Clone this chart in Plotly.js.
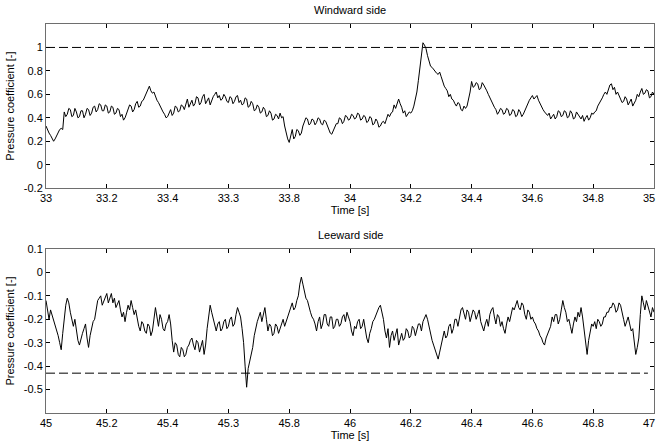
<!DOCTYPE html>
<html>
<head>
<meta charset="utf-8">
<script src="https://cdn.plot.ly/plotly-3.0.1.min.js"></script>
<style>html,body{margin:0;padding:0;background:#fff;}#chart{width:658px;height:447px;}</style>
</head>
<body>
<div id="chart"></div>
<script>
// Windward side: pressure coefficient sampled every 0.005 s from 33.000 s
var windStart = 33.0;
var windStep = 0.005;
var windCp = [
0.33,0.29,0.27,0.25,0.23,0.20,0.22,0.25,0.27,0.30,0.31,0.30,0.45,0.41,0.43,0.48,0.47,0.41,0.42,0.48,
0.45,0.40,0.41,0.46,0.46,0.40,0.43,0.48,0.47,0.42,0.44,0.49,0.50,0.45,0.47,0.52,0.51,0.46,0.46,0.51,
0.50,0.44,0.45,0.50,0.49,0.43,0.44,0.48,0.47,0.41,0.43,0.38,0.40,0.44,0.46,0.51,0.50,0.45,0.47,0.52,
0.54,0.49,0.50,0.54,0.55,0.58,0.60,0.64,0.67,0.63,0.61,0.62,0.58,0.55,0.53,0.50,0.48,0.45,0.43,0.40,
0.41,0.45,0.47,0.42,0.44,0.50,0.49,0.45,0.46,0.51,0.50,0.47,0.53,0.56,0.49,0.53,0.55,0.50,0.52,0.58,
0.57,0.51,0.53,0.58,0.60,0.52,0.54,0.57,0.51,0.55,0.58,0.60,0.62,0.57,0.59,0.55,0.56,0.60,0.58,0.54,
0.53,0.58,0.57,0.52,0.54,0.58,0.59,0.53,0.55,0.51,0.52,0.57,0.56,0.49,0.50,0.54,0.52,0.46,0.47,0.51,
0.49,0.44,0.45,0.49,0.47,0.41,0.42,0.46,0.44,0.38,0.39,0.43,0.42,0.39,0.44,0.40,0.41,0.33,0.27,0.22,
0.19,0.26,0.30,0.22,0.24,0.30,0.29,0.25,0.27,0.33,0.36,0.40,0.39,0.34,0.35,0.39,0.38,0.34,0.36,0.40,
0.39,0.35,0.34,0.38,0.37,0.33,0.30,0.27,0.26,0.29,0.32,0.35,0.35,0.40,0.39,0.35,0.37,0.42,0.41,0.38,
0.39,0.43,0.42,0.39,0.40,0.44,0.43,0.38,0.39,0.42,0.41,0.36,0.37,0.41,0.40,0.34,0.35,0.39,0.37,0.32,
0.33,0.36,0.37,0.35,0.39,0.43,0.41,0.44,0.45,0.51,0.48,0.53,0.56,0.52,0.49,0.44,0.46,0.41,0.43,0.45,
0.44,0.46,0.50,0.55,0.62,0.72,0.82,0.93,1.04,1.02,0.99,0.93,0.88,0.84,0.83,0.81,0.80,0.78,0.77,0.79,
0.75,0.70,0.67,0.65,0.63,0.58,0.60,0.56,0.55,0.52,0.50,0.53,0.52,0.47,0.46,0.50,0.48,0.50,0.55,0.62,
0.71,0.66,0.67,0.70,0.69,0.64,0.65,0.70,0.68,0.66,0.63,0.60,0.57,0.54,0.52,0.49,0.47,0.43,0.45,0.48,
0.47,0.43,0.44,0.48,0.47,0.42,0.43,0.47,0.46,0.41,0.42,0.47,0.45,0.41,0.43,0.46,0.50,0.53,0.55,0.57,
0.59,0.56,0.58,0.59,0.55,0.52,0.49,0.47,0.45,0.43,0.42,0.44,0.39,0.41,0.43,0.39,0.41,0.46,0.45,0.41,
0.42,0.46,0.45,0.40,0.41,0.46,0.44,0.39,0.40,0.45,0.43,0.40,0.39,0.42,0.37,0.40,0.42,0.38,0.40,0.44,
0.43,0.45,0.46,0.50,0.52,0.55,0.57,0.60,0.62,0.60,0.65,0.68,0.69,0.64,0.66,0.60,0.62,0.58,0.56,0.53,
0.54,0.58,0.56,0.51,0.53,0.56,0.50,0.52,0.55,0.60,0.58,0.62,0.65,0.60,0.61,0.64,0.63,0.57,0.58,0.62,
0.60
];
var windRef = 1.0;

// Leeward side: pressure coefficient sampled every 0.005 s from 45.000 s
var leeStart = 45.0;
var leeStep = 0.005;
var leeCp = [
-0.12,-0.17,-0.20,-0.16,-0.18,-0.21,-0.23,-0.25,-0.27,-0.30,-0.33,-0.26,-0.20,-0.14,-0.11,-0.13,-0.17,-0.21,-0.23,-0.20,
-0.25,-0.29,-0.31,-0.28,-0.26,-0.24,-0.22,-0.28,-0.32,-0.27,-0.23,-0.21,-0.20,-0.15,-0.12,-0.11,-0.10,-0.14,-0.12,-0.10,
-0.09,-0.13,-0.11,-0.09,-0.13,-0.11,-0.15,-0.13,-0.12,-0.16,-0.19,-0.17,-0.21,-0.17,-0.14,-0.16,-0.12,-0.15,-0.18,-0.16,
-0.20,-0.23,-0.25,-0.21,-0.22,-0.25,-0.26,-0.22,-0.23,-0.27,-0.25,-0.20,-0.15,-0.19,-0.23,-0.18,-0.20,-0.24,-0.25,-0.22,
-0.21,-0.18,-0.22,-0.29,-0.34,-0.30,-0.31,-0.35,-0.36,-0.32,-0.33,-0.36,-0.35,-0.32,-0.31,-0.29,-0.28,-0.31,-0.33,-0.29,
-0.30,-0.34,-0.32,-0.29,-0.35,-0.31,-0.24,-0.18,-0.14,-0.17,-0.20,-0.23,-0.25,-0.22,-0.21,-0.25,-0.24,-0.21,-0.20,-0.24,
-0.23,-0.20,-0.19,-0.23,-0.22,-0.18,-0.15,-0.17,-0.19,-0.24,-0.30,-0.40,-0.49,-0.41,-0.38,-0.35,-0.32,-0.27,-0.23,-0.21,
-0.19,-0.17,-0.21,-0.17,-0.15,-0.20,-0.25,-0.22,-0.23,-0.27,-0.26,-0.22,-0.23,-0.26,-0.24,-0.21,-0.20,-0.23,-0.21,-0.18,
-0.16,-0.14,-0.13,-0.16,-0.15,-0.12,-0.10,-0.05,-0.02,-0.05,-0.09,-0.11,-0.12,-0.15,-0.17,-0.19,-0.20,-0.22,-0.25,-0.21,
-0.19,-0.24,-0.22,-0.18,-0.18,-0.22,-0.23,-0.19,-0.19,-0.24,-0.23,-0.20,-0.20,-0.23,-0.22,-0.19,-0.18,-0.21,-0.17,-0.19,
-0.21,-0.25,-0.27,-0.23,-0.24,-0.21,-0.20,-0.24,-0.23,-0.20,-0.25,-0.28,-0.30,-0.26,-0.24,-0.21,-0.20,-0.18,-0.17,-0.15,
-0.14,-0.17,-0.20,-0.25,-0.28,-0.24,-0.32,-0.27,-0.25,-0.29,-0.27,-0.24,-0.31,-0.28,-0.26,-0.29,-0.28,-0.24,-0.25,-0.28,
-0.27,-0.23,-0.24,-0.27,-0.25,-0.22,-0.22,-0.25,-0.21,-0.19,-0.18,-0.20,-0.23,-0.27,-0.29,-0.31,-0.33,-0.36,-0.37,-0.34,
-0.31,-0.28,-0.25,-0.28,-0.27,-0.23,-0.22,-0.26,-0.24,-0.20,-0.20,-0.23,-0.19,-0.16,-0.15,-0.18,-0.20,-0.16,-0.17,-0.21,
-0.19,-0.16,-0.17,-0.20,-0.18,-0.16,-0.21,-0.23,-0.25,-0.22,-0.20,-0.23,-0.18,-0.16,-0.15,-0.19,-0.22,-0.18,-0.19,-0.23,
-0.21,-0.24,-0.26,-0.22,-0.19,-0.21,-0.18,-0.15,-0.16,-0.14,-0.12,-0.15,-0.16,-0.13,-0.14,-0.18,-0.20,-0.16,-0.17,-0.20,
-0.19,-0.21,-0.22,-0.24,-0.25,-0.27,-0.28,-0.30,-0.31,-0.28,-0.26,-0.24,-0.23,-0.19,-0.21,-0.18,-0.18,-0.22,-0.20,-0.16,
-0.12,-0.15,-0.17,-0.21,-0.20,-0.23,-0.26,-0.22,-0.19,-0.21,-0.17,-0.19,-0.15,-0.19,-0.24,-0.30,-0.35,-0.29,-0.25,-0.22,
-0.23,-0.21,-0.24,-0.20,-0.21,-0.23,-0.22,-0.19,-0.19,-0.17,-0.17,-0.15,-0.15,-0.13,-0.14,-0.17,-0.16,-0.13,-0.14,-0.18,
-0.20,-0.23,-0.21,-0.19,-0.22,-0.25,-0.24,-0.30,-0.35,-0.32,-0.28,-0.18,-0.10,-0.13,-0.16,-0.12,-0.14,-0.17,-0.19,-0.15,
-0.17
];
var leeRef = -0.43;

// Axis ticks as printed in the reference
var windXTicks = [33, 33.2, 33.4, 33.6, 33.8, 34, 34.2, 34.4, 34.6, 34.8, 35];
var windXText = ["33", "33.2", "33.4", "33.3", "33.8", "34", "34.2", "34.4", "34.6", "34.8", "35"];
var windYTicks = [-0.2, 0, 0.2, 0.4, 0.6, 0.8, 1];
var windYText = ["-0.2", "0", "0.2", "0.4", "0.6", "0.8", "1"];
var leeXTicks = [45, 45.2, 45.4, 45.6, 45.8, 46, 46.2, 46.4, 46.6, 46.8, 47];
var leeXText = ["45", "45.2", "45.4", "45.3", "45.8", "46", "46.2", "46.4", "46.6", "46.8", "47"];
var leeYTicks = [-0.5, -0.4, -0.3, -0.2, -0.1, 0, 0.1];
var leeYText = ["-0.5", "-0.4", "-0.3", "-0.2", "-0.1", "0", "0.1"];

var windRange = [33, 35], windYRange = [-0.2, 1.2];
var leeRange = [45, 47], leeYRange = [-0.6, 0.1];

var FONT = "Liberation Sans, Arial, sans-serif";
var TXT = {family: FONT, size: 11, color: '#000'};

// The last x label sits at the very right edge; it is drawn as an annotation nudged inwards
function innerText(arr) { return arr.map(function (s, i) { return i === arr.length - 1 ? '' : s; }); }

var axisCommon = {
  showline: true, mirror: 'ticks', linecolor: '#6e6e6e', linewidth: 1,
  ticks: 'inside', ticklen: 4, tickcolor: '#000', tickwidth: 1,
  showgrid: false, zeroline: false, tickmode: 'array',
  tickfont: TXT
};
function ax(extra) { return Object.assign({}, axisCommon, extra); }

var traces = [
  {x0: windStart, dx: windStep, y: windCp, type: 'scatter', mode: 'lines',
   line: {color: '#000', width: 1}, xaxis: 'x', yaxis: 'y', hoverinfo: 'skip'},
  {x0: leeStart, dx: leeStep, y: leeCp, type: 'scatter', mode: 'lines',
   line: {color: '#000', width: 1}, xaxis: 'x2', yaxis: 'y2', hoverinfo: 'skip'}
];

var layout = {
  width: 658, height: 447,
  margin: {l: 46, r: 4, t: 24, b: 34},
  paper_bgcolor: '#fff', plot_bgcolor: '#fff',
  showlegend: false,
  font: TXT,
  xaxis: ax({domain: [0, 1], range: windRange, tickvals: windXTicks, ticktext: innerText(windXText), anchor: 'y',
    title: {text: 'Time [s]', font: TXT, standoff: 2}}),
  yaxis: ax({domain: [0.578, 1], range: windYRange, tickvals: windYTicks, ticktext: windYText, anchor: 'x',
    title: {text: 'Pressure coefficient [-]', font: TXT, standoff: 6}}),
  xaxis2: ax({domain: [0, 1], range: leeRange, tickvals: leeXTicks, ticktext: innerText(leeXText), anchor: 'y2',
    title: {text: 'Time [s]', font: TXT, standoff: 2}}),
  yaxis2: ax({domain: [0, 0.4216], range: leeYRange, tickvals: leeYTicks, ticktext: leeYText, anchor: 'x2',
    title: {text: 'Pressure coefficient [-]', font: TXT, standoff: 6}}),
  shapes: [
    {type: 'line', xref: 'x domain', yref: 'y', x0: 0, x1: 1, y0: windRef, y1: windRef,
     line: {color: '#000', width: 1, dash: '9px,4px'}},
    {type: 'line', xref: 'x2 domain', yref: 'y2', x0: 0, x1: 0.99, y0: leeRef, y1: leeRef,
     line: {color: '#000', width: 1, dash: '9px,4px'}}
  ],
  annotations: [
    {text: 'Windward side', xref: 'x domain', yref: 'y domain', x: 0.5, y: 1, yshift: 6,
     xanchor: 'center', yanchor: 'bottom', showarrow: false, font: TXT},
    {text: 'Leeward side', xref: 'x2 domain', yref: 'y2 domain', x: 0.5, y: 1, yshift: 6,
     xanchor: 'center', yanchor: 'bottom', showarrow: false, font: TXT},
    {text: windXText[windXText.length - 1], xref: 'x', yref: 'y domain',
     x: windXTicks[windXTicks.length - 1], y: 0, yshift: -3, xshift: 2,
     xanchor: 'right', yanchor: 'top', showarrow: false, font: TXT, borderpad: 0},
    {text: leeXText[leeXText.length - 1], xref: 'x2', yref: 'y2 domain',
     x: leeXTicks[leeXTicks.length - 1], y: 0, yshift: -3, xshift: 2,
     xanchor: 'right', yanchor: 'top', showarrow: false, font: TXT, borderpad: 0}
  ]
};

Plotly.newPlot('chart', traces, layout, {staticPlot: true, displayModeBar: false});
</script>
</body>
</html>
